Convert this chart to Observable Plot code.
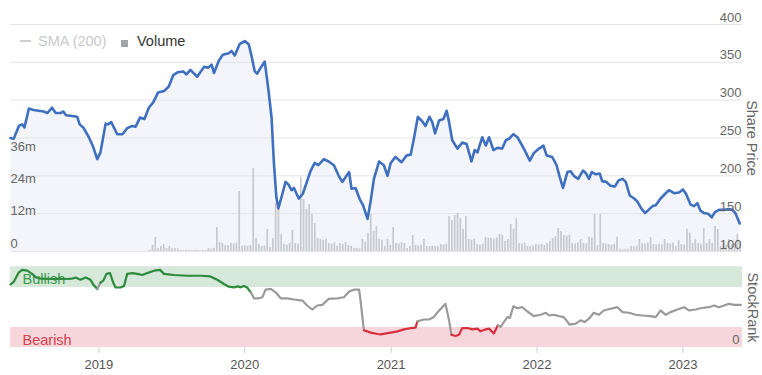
<!DOCTYPE html>
<html>
<head>
<meta charset="utf-8">
<script src="https://cdn.jsdelivr.net/npm/d3@7"></script>
<script src="https://cdn.jsdelivr.net/npm/@observablehq/plot@0.6"></script>
<style>
  body { margin: 0; background: #fff; font-family: "Liberation Sans", Arial, sans-serif; }
  #wrap { position: relative; width: 762px; height: 375px; overflow: hidden; }
  .layer { position: absolute; left: 0; }
  .lg { position: absolute; font-size: 14.5px; line-height: 1; white-space: nowrap; }
</style>
</head>
<body>
<div id="wrap">
  <div class="layer" id="l1" style="top:0"></div>
  <div class="layer" id="l2" style="top:0"></div>
  <div class="layer" id="l3" style="top:0"></div>
  <div class="layer" id="l4" style="top:255px"></div>
  <div style="position:absolute;left:20px;top:40px;width:11px;height:1.5px;background:#cfcfcf"></div>
  <span class="lg" style="left:38px;top:34px;color:#c9c9c9">SMA (200)</span>
  <div style="position:absolute;left:121px;top:39.5px;width:7px;height:7px;background:#a2a4aa"></div>
  <span class="lg" style="left:137px;top:34px;color:#333">Volume</span>
</div>
<script>
// ---------- data ----------
const xDomainDates = ["2018-05-25", "2023-05-30"];
const yearTicks = ["2019-01-01", "2020-01-01", "2021-01-01", "2022-01-01", "2023-01-01"];
const priceTicks = [100, 150, 200, 250, 300, 350, 400];
const volumeTicks = [0, 12, 24, 36];
const volumeTickLabels = ["0", "12m", "24m", "36m"];
const rankTicks = [0];

const priceDates = [
"2018-05-25","2018-06-02","2018-06-15","2018-06-23","2018-06-29","2018-07-10","2018-07-22","2018-08-16","2018-08-25","2018-09-06",
"2018-09-15","2018-09-27","2018-10-04","2018-10-11","2018-10-26","2018-11-08","2018-11-14","2018-11-23","2018-12-07","2018-12-18",
"2018-12-28","2019-01-05","2019-01-18","2019-01-24","2019-02-01","2019-02-16","2019-03-01","2019-03-13","2019-03-26","2019-04-03",
"2019-04-14","2019-04-25","2019-05-06","2019-05-17","2019-05-29","2019-06-13","2019-06-25","2019-07-06","2019-07-18","2019-07-31",
"2019-08-08","2019-08-18","2019-09-04","2019-09-21","2019-10-02","2019-10-10","2019-10-16","2019-10-28","2019-11-07","2019-11-22",
"2019-11-29","2019-12-07","2019-12-19","2020-01-01","2020-01-11","2020-01-18","2020-01-26","2020-02-01","2020-02-10","2020-02-20",
"2020-03-01","2020-03-08","2020-03-14","2020-03-20","2020-03-25","2020-04-04","2020-04-12","2020-04-20","2020-04-27","2020-05-03",
"2020-05-15","2020-05-25","2020-06-03","2020-06-14","2020-06-24","2020-07-03","2020-07-17","2020-07-29","2020-08-11","2020-08-23",
"2020-09-01","2020-09-09","2020-09-18","2020-09-24","2020-10-04","2020-10-14","2020-10-23","2020-11-03","2020-11-11","2020-11-19",
"2020-12-02","2020-12-14","2020-12-23","2020-12-31","2021-01-12","2021-01-27","2021-02-09","2021-02-19","2021-02-27","2021-03-09",
"2021-03-20","2021-03-28","2021-04-07","2021-04-14","2021-04-21","2021-05-01","2021-05-12","2021-05-20","2021-05-26","2021-06-03",
"2021-06-16","2021-06-28","2021-07-09","2021-07-21","2021-07-29","2021-08-05","2021-08-17","2021-08-26","2021-09-03","2021-09-14",
"2021-09-24","2021-10-06","2021-10-15","2021-10-23","2021-11-03","2021-11-13","2021-11-25","2021-12-04","2021-12-14","2021-12-24",
"2022-01-06","2022-01-17","2022-01-25","2022-02-08","2022-02-19","2022-02-27","2022-03-07","2022-03-18","2022-03-26","2022-04-03",
"2022-04-14","2022-04-26","2022-05-04","2022-05-11","2022-05-18","2022-05-28","2022-06-07","2022-06-13","2022-06-23","2022-07-04",
"2022-07-15","2022-07-24","2022-08-03","2022-08-11","2022-08-21","2022-09-01","2022-09-09","2022-09-20","2022-09-28","2022-10-07",
"2022-10-17","2022-10-25","2022-11-06","2022-11-19","2022-11-27","2022-12-10","2022-12-22","2023-01-01","2023-01-09","2023-01-20",
"2023-01-29","2023-02-06","2023-02-14","2023-02-22","2023-03-05","2023-03-14","2023-03-22","2023-04-01","2023-04-14","2023-04-26",
"2023-05-05","2023-05-13","2023-05-23"];
const priceValues = [
250,249,266,268,264,289,287,285,283,290,
283,283,285,280,279,278,268,264,251,238,
222,231,269,268,271,255,255,263,266,265,
277,275,290,297,310,312,318,333,337,338,
334,340,331,344,343,347,336,352,360,362,
365,359,374,378,374,358,338,335,343,351,
310,277,216,172,157,176,192,188,181,184,
170,176,190,207,217,214,222,219,214,200,
192,198,205,183,184,170,161,143,167,196,
219,214,200,217,225,218,227,228,249,278,
272,266,278,271,256,273,275,286,271,247,
236,244,242,219,234,231,251,240,251,234,
237,236,247,249,255,251,240,231,220,230,
236,240,227,225,214,198,184,205,206,200,
196,207,203,196,205,202,203,193,192,187,
186,194,196,192,174,170,166,156,151,155,
160,161,170,177,181,177,178,182,176,162,
160,164,154,151,150,145,152,155,155,156,
155,150,137];

// weekly volume (millions), first week starting 2019-05-06
const volumeStart = "2019-05-06";
const volumeValues = [
0.5,2.3,5.3,1.1,1.9,2.6,1.1,1.9,1.1,1.2,
1.0,0.4,0.3,0.5,0.4,0.3,0.4,0.5,0.3,0.4,
0.4,1.1,0.9,1.2,9.0,3.4,3.0,2.3,2.1,3.0,
2.8,3.2,22.5,1.9,2.1,1.8,2.3,31.1,4.9,2.6,
1.9,2.0,8.3,1.5,4.9,18.0,15.8,6.4,2.6,2.4,
3.0,7.9,3.0,2.8,27.8,19.5,15.8,17.6,13.9,10.5,
4.9,4.5,4.2,4.6,3.0,2.8,3.2,1.9,3.0,2.6,
3.4,2.3,1.9,1.1,1.2,1.0,4.5,3.4,6.8,13.9,
7.5,9.4,4.5,4.2,1.9,4.5,2.3,9.0,3.0,2.8,
3.2,3.0,1.1,1.9,6.0,2.3,2.1,2.4,4.5,1.9,
1.8,2.0,1.9,1.7,2.6,2.4,2.7,13.1,11.6,13.5,
14.3,12.4,8.3,13.1,4.5,4.2,4.6,2.6,2.4,2.7,
5.3,5.0,4.9,4.6,5.1,6.4,6.1,3.8,4.5,10.1,
8.3,12.4,3.0,2.8,3.2,1.9,1.8,2.0,2.6,2.4,
2.7,2.3,3.0,3.8,4.9,5.6,8.6,7.5,6.0,5.8,
6.2,3.0,2.8,3.2,4.5,3.0,2.9,5.3,5.1,13.9,
2.3,13.9,3.0,2.8,2.6,2.4,2.7,5.3,0.8,0.7,
0.9,0.8,1.9,1.7,2.0,4.5,3.0,2.8,3.1,5.3,
2.6,2.4,2.7,2.5,4.5,3.0,2.8,3.2,1.9,4.1,
2.6,2.4,8.3,6.8,3.0,4.5,3.0,2.8,8.6,3.0,
4.5,3.0,9.4,8.3,1.9,3.0,2.3,4.5,2.6,3.0,
6.4,3.8];

const rankDates = [
"2018-05-25","2018-06-02","2018-06-15","2018-06-23","2018-07-06","2018-07-18","2018-07-27","2018-08-08","2018-09-02","2018-09-23",
"2018-10-14","2018-10-26","2018-11-04","2018-11-16","2018-11-29","2018-12-11","2018-12-19","2018-12-28","2019-01-05","2019-01-12",
"2019-01-20","2019-01-29","2019-02-06","2019-02-12","2019-02-24","2019-03-05","2019-03-13","2019-03-26","2019-04-07","2019-04-20",
"2019-05-02","2019-05-19","2019-06-03","2019-06-13","2019-07-08","2019-08-10","2019-09-12","2019-10-07","2019-10-24","2019-11-10",
"2019-11-22","2019-12-05","2019-12-15","2019-12-22","2019-12-30","2020-01-07","2020-01-16","2020-01-24","2020-02-05","2020-02-14",
"2020-02-22","2020-03-06","2020-03-18","2020-03-31","2020-04-16","2020-05-03","2020-05-24","2020-06-05","2020-06-18","2020-06-30",
"2020-07-13","2020-07-29","2020-08-19","2020-09-05","2020-09-18","2020-09-30","2020-10-13","2020-10-17","2020-10-25","2020-11-11",
"2020-11-28","2020-12-06","2020-12-31","2021-01-17","2021-02-02","2021-02-19","2021-03-03","2021-03-08","2021-03-24","2021-04-06",
"2021-04-18","2021-04-27","2021-05-09","2021-05-17","2021-05-26","2021-06-01","2021-06-11","2021-06-20","2021-06-28","2021-07-11",
"2021-07-23","2021-08-05","2021-08-13","2021-08-26","2021-09-03","2021-09-15","2021-09-25","2021-10-02","2021-10-10","2021-10-19",
"2021-10-25","2021-11-03","2021-11-13","2021-11-25","2021-12-08","2021-12-24","2022-01-10","2022-01-23","2022-01-31","2022-02-12",
"2022-02-25","2022-03-09","2022-03-24","2022-04-08","2022-04-20","2022-04-30","2022-05-11","2022-05-23","2022-06-05","2022-06-17",
"2022-07-04","2022-07-21","2022-08-03","2022-08-19","2022-09-05","2022-09-22","2022-10-12","2022-10-25","2022-11-06","2022-11-19",
"2022-12-01","2022-12-18","2023-01-04","2023-01-16","2023-02-02","2023-02-14","2023-03-07","2023-03-20","2023-04-01","2023-04-14",
"2023-04-26","2023-05-09","2023-05-26"];
const rankValues = [
79,82,94,97,96,92,88,86,85.6,86,
85.6,86,87.6,84.7,87.6,84.7,78,73,81,83.5,
92,93,81,75,75,77,92,93,92,90.6,
93,96,97,92,90.6,89.7,89.7,88.8,84.7,79.4,
76,75.2,76.4,75.2,77,75,69,61.5,61.5,62.8,
72.3,73.2,69,61.5,61.5,60,58.7,52.5,47.5,52.5,
53.3,60.8,61.5,62.8,69.9,72.3,72.3,56.6,21.5,18.6,
16.9,16.5,18.6,20.2,22.7,24.3,24.8,32.6,35,35,
38,44,50.4,54.6,33.9,16,14.4,16,24.3,24.3,
22.7,23.6,20.2,22.7,23.6,17.4,27.7,25.6,31.8,38,
36.7,51.6,49.1,50.4,45,39.2,40.9,43.4,40,40.9,
39.2,38,28.5,29.8,33.9,31.8,36,43.4,40.9,46.3,
48.4,50.4,44.2,43.4,40.9,40,39.2,38,46.3,40.9,
44.2,47.5,50.4,46.3,47.5,49.1,50.4,52.5,50.4,52.5,
54.6,53.3,53.3];

const bandLabels = ["Bullish", "Bearish"];
const bandLow = [75, 0];
const bandHigh = [100, 25];

// ---------- build tables ----------
const parse = d3.utcParse("%Y-%m-%d");
const xDomain = xDomainDates.map(parse);
const years = yearTicks.map(parse);
const price = priceDates.map((d, i) => ({date: parse(d), v: priceValues[i]}));
const vStart = parse(volumeStart);
const volume = volumeValues.map((v, i) => ({
  start: d3.utcDay.offset(vStart, 7 * i),
  end: d3.utcDay.offset(vStart, 7 * i + 7),
  v
}));
const bands = bandLabels.map((label, i) => ({label, lo: bandLow[i], hi: bandHigh[i]}));

const rankColor = {bull: "#2e8b3b", bear: "#d6303f", mid: "#9a9a9a"};
const cls = v => v >= 75 ? "bull" : v <= 25 ? "bear" : "mid";
const rankRows = [];
{
  let seg = 0, prev = null;
  rankDates.forEach((d, i) => {
    const v = rankValues[i], c = cls(v), date = parse(d);
    if (prev !== null && c !== prev) { rankRows.push({date, v, seg, c: prev}); seg++; }
    rankRows.push({date, v, seg, c});
    prev = c;
  });
}

// ---------- plots ----------
const STYLE = "background: transparent; font-family: 'Liberation Sans', Arial, sans-serif; overflow: visible;";
const common = {width: 762, marginLeft: 10, marginRight: 20, style: STYLE};
const X = {type: "utc", domain: xDomain, axis: null};
const priceDomain = [100, 400];

const p1 = Plot.plot({
  ...common, height: 255, marginTop: 24, marginBottom: 4,
  x: X, y: {domain: priceDomain, axis: null},
  marks: [
    Plot.areaY(price, {x: "date", y1: priceDomain[0], y2: "v", fill: "#f3f5fb"}),
    Plot.ruleY(priceTicks, {stroke: "#e4e4e4"})
  ]
});

const p2 = Plot.plot({
  ...common, height: 255, marginTop: 24, marginBottom: 4,
  x: X, y: {domain: [0, 85.1], axis: null},
  marks: [
    Plot.rectY(volume, {x1: "start", x2: "end", y: "v", fill: "#c8c9ce", insetLeft: 0.5, insetRight: 0.6}),
    Plot.text(volumeTicks, {y: d => d, text: (d, i) => volumeTickLabels[i], frameAnchor: "left",
      textAnchor: "start", lineAnchor: "bottom", dy: -4, fill: "#666", fontSize: 13})
  ]
});

const p3 = Plot.plot({
  ...common, height: 255, marginTop: 24, marginBottom: 4,
  x: X, y: {domain: priceDomain, axis: null},
  marks: [
    Plot.line(price, {x: "date", y: "v", stroke: "#3f70bf", strokeWidth: 2.6, curve: "linear"}),
    Plot.text(priceTicks, {y: d => d, text: d => String(d), frameAnchor: "right", textAnchor: "end",
      lineAnchor: "bottom", dx: -1, dy: -3, fill: "#666", fontSize: 13}),
    Plot.text(["Share Price"], {frameAnchor: "right", textAnchor: "middle", lineAnchor: "middle",
      dx: 9, rotate: 90, fill: "#666", fontSize: 14.5})
  ]
});

const p4 = Plot.plot({
  ...common, height: 120, marginTop: 12, marginBottom: 28,
  x: X, y: {domain: [0, 100], axis: null},
  marks: [
    Plot.rect(bands.slice(0, 1), {y1: "lo", y2: "hi", fill: "#d5e8d9"}),
    Plot.rect(bands.slice(1), {y1: "lo", y2: "hi", fill: "#f6d6da"}),
    Plot.ruleY([100], {stroke: "#e8e8e8", dy: -1}),
    Plot.text(bands.slice(0, 1), {y: "lo", text: "label", frameAnchor: "left", textAnchor: "start",
      dx: 12, dy: -8, fill: "#3a9a48", fontSize: 14.5}),
    Plot.text(bands.slice(1), {y: "lo", text: "label", frameAnchor: "left", textAnchor: "start",
      dx: 12, dy: -7, fill: "#d8404e", fontSize: 14.5}),
    Plot.line(rankRows, {x: "date", y: "v", z: "seg", stroke: d => rankColor[d.c], strokeWidth: 2.2}),
    Plot.text(rankTicks, {y: d => d, text: d => String(d), frameAnchor: "right", textAnchor: "end",
      lineAnchor: "bottom", dx: -3, dy: -4, fill: "#666", fontSize: 13}),
    Plot.text(["StockRank"], {frameAnchor: "right", textAnchor: "middle", lineAnchor: "middle",
      dx: 10, rotate: 90, fill: "#666", fontSize: 14.5}),
    Plot.axisX(years, {tickFormat: d3.utcFormat("%Y"), tickSize: 6, tickPadding: 6, fontSize: 13,
      fill: "#555", stroke: "#cccccc"})
  ]
});

document.getElementById("l1").appendChild(p1);
document.getElementById("l2").appendChild(p2);
document.getElementById("l3").appendChild(p3);
document.getElementById("l4").appendChild(p4);
</script>
</body>
</html>
